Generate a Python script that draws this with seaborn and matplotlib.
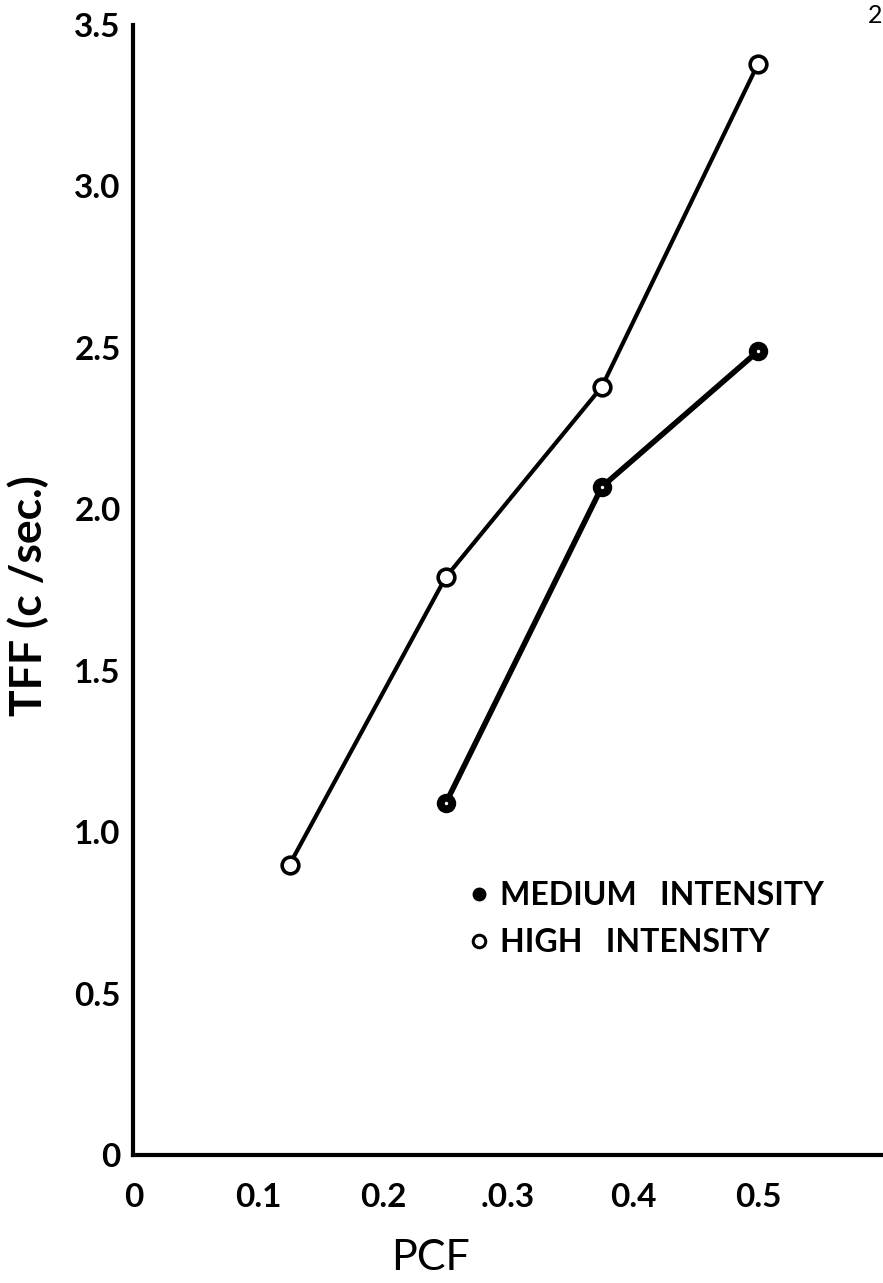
import matplotlib
matplotlib.use('Agg')
import matplotlib.pyplot as plt
import seaborn as sns
import pandas as pd
from matplotlib.lines import Line2D

# ---- data ----
pcf_high = [0.125, 0.25, 0.375, 0.5]
tff_high = [0.90, 1.79, 2.38, 3.38]
pcf_medium = [0.25, 0.375, 0.5]
tff_medium = [1.09, 2.07, 2.49]
x_ticks = [0, 0.1, 0.2, 0.3, 0.4, 0.5]
x_tick_labels = ['0', '0.1', '0.2', '.0.3', '0.4', '0.5']
y_ticks = [0, 0.5, 1.0, 1.5, 2.0, 2.5, 3.0, 3.5]
y_tick_labels = ['0', '0.5', '1.0', '1.5', '2.0', '2.5', '3.0', '3.5']
series_labels = ['MEDIUM   INTENSITY', 'HIGH   INTENSITY']

sns.set_theme(style='white')
plt.rcParams['font.family'] = ['Lato', 'DejaVu Sans']

df_high = pd.DataFrame({'PCF': pcf_high, 'TFF': tff_high})
df_med = pd.DataFrame({'PCF': pcf_medium, 'TFF': tff_medium})

fig = plt.figure(figsize=(8.83, 12.83), dpi=100)
ax = fig.add_axes([0.151, 0.0995, 0.849, 0.881])

sns.lineplot(data=df_high, x='PCF', y='TFF', ax=ax, color='black', linewidth=3.0,
             marker='o', markersize=12, markerfacecolor='white',
             markeredgecolor='black', markeredgewidth=2.6, zorder=3)
sns.lineplot(data=df_med, x='PCF', y='TFF', ax=ax, color='black', linewidth=4.0,
             marker='o', markersize=12, markerfacecolor='black',
             markeredgecolor='black', markeredgewidth=2.0, zorder=3)
# small light centre in the medium markers
sns.scatterplot(data=df_med, x='PCF', y='TFF', ax=ax, color='white', s=6,
                linewidth=0, zorder=4, legend=False)

ax.set_xlim(0, 0.6)
ax.set_ylim(0, 3.5)
ax.set_xticks(x_ticks)
ax.set_xticklabels(x_tick_labels, fontweight='bold')
ax.set_yticks(y_ticks)
ax.set_yticklabels(y_tick_labels, fontweight='bold')

for side in ['top', 'right']:
    ax.spines[side].set_visible(False)
for side in ['left', 'bottom']:
    ax.spines[side].set_linewidth(3.0)
    ax.spines[side].set_color('black')

ax.tick_params(axis='both', direction='in', length=14, width=3.0, color='black',
               labelsize=24, labelcolor='black')
ax.tick_params(axis='x', pad=20)
ax.tick_params(axis='y', pad=9)
ax.grid(False)

ax.set_xlabel('PCF', fontsize=31, color='black')
ax.xaxis.set_label_coords(0.396, -0.074)
ax.set_ylabel('TFF (c /sec.)', fontsize=32, color='black', fontweight='bold')
ax.yaxis.set_label_coords(-0.112, 0.495)

handles = [
    Line2D([], [], linestyle='none', marker='o', markersize=9,
           markerfacecolor='black', markeredgecolor='black'),
    Line2D([], [], linestyle='none', marker='o', markersize=9,
           markerfacecolor='white', markeredgecolor='black', markeredgewidth=2.2),
]
leg = ax.legend(handles, series_labels, loc='upper left',
                bbox_to_anchor=(0.41, 0.268), frameon=False,
                prop={'size': 23, 'weight': 'bold'},
                handlelength=0.6, handletextpad=0.35, labelspacing=0.55)
for t in leg.get_texts():
    t.set_color('black')

fig.text(0.999, 0.997, '2', fontsize=18, ha='right', va='top', color='black')

fig.savefig('out.png', dpi=100, facecolor='white')
